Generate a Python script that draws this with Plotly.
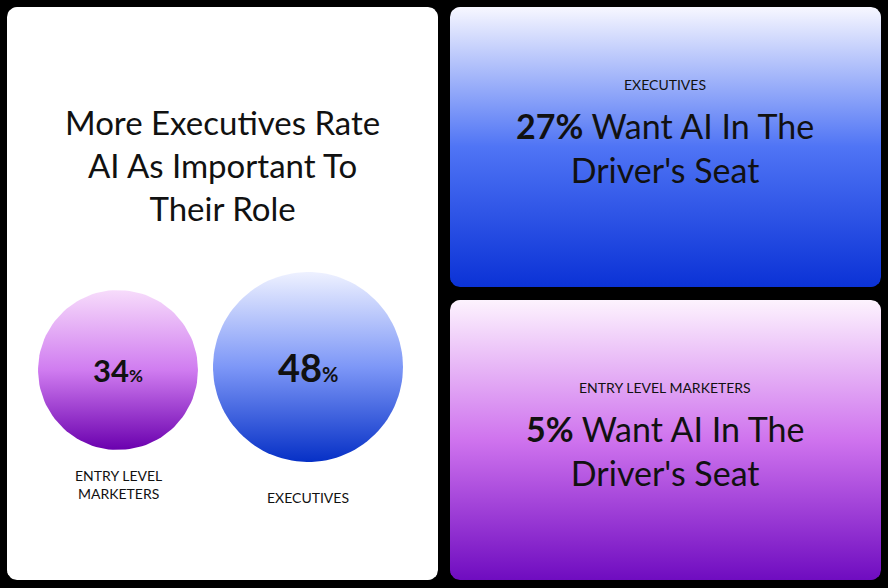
import numpy as np
import plotly.graph_objects as go

# data
groups = ['ENTRY LEVEL<br>MARKETERS', 'EXECUTIVES']
rate_important = [34, 48]
driver_groups = ['EXECUTIVES', 'ENTRY LEVEL MARKETERS']
driver_seat = [27, 5]
title = 'More Executives Rate<br>AI As Important To<br>Their Role'

W, H = 888, 588
FONT = 'Lato'

fig = go.Figure()


def rounded_rect(x0, y0, x1, y1, r=10, n=8):
    xs, ys = [], []
    corners = [(x1 - r, y0 + r, -90, 0), (x1 - r, y1 - r, 0, 90),
               (x0 + r, y1 - r, 90, 180), (x0 + r, y0 + r, 180, 270)]
    for cx, cy, a0, a1 in corners:
        t = np.radians(np.linspace(a0, a1, n))
        xs += list(cx + r * np.cos(t))
        ys += list(cy + r * np.sin(t))
    return xs + [xs[0]], ys + [ys[0]]


def add_shape(xs, ys, c_top, c_bot, y0, y1, mid=None):
    scale = [[0, c_top], [1, c_bot]] if mid is None else [[0, c_top], [0.5, mid], [1, c_bot]]
    fig.add_trace(go.Scatter(
        x=xs, y=ys, mode='lines', fill='toself', line=dict(width=0),
        fillgradient=dict(type='vertical', colorscale=scale, start=y0, stop=y1),
        hoverinfo='skip', showlegend=False))


# cards
xs, ys = rounded_rect(7, 7, 438, 580)
add_shape(xs, ys, '#ffffff', '#ffffff', 7, 580)
xs, ys = rounded_rect(450, 7, 881, 287)
add_shape(xs, ys, '#f7f7ff', '#0b32d6', 7, 287, mid='#4f74f5')
xs, ys = rounded_rect(450, 300, 881, 580)
add_shape(xs, ys, '#fdf3fe', '#6f0cc0', 300, 580, mid='#cf73ee')

# circles, area proportional to value
centers = [(118, 370), (308, 367)]
circ_cols = [('#f7dcfb', '#d07cf0', '#6a00ae'), ('#eef1ff', '#7d97f7', '#0630c6')]
k = 95 / np.sqrt(max(rate_important))
t = np.linspace(0, 2 * np.pi, 120)
for (cx, cy), v, (c0, cm, c1), g in zip(centers, rate_important, circ_cols, groups):
    r = k * np.sqrt(v)
    add_shape(list(cx + r * np.cos(t)), list(cy + r * np.sin(t)), c0, c1, cy - r, cy + r, mid=cm)
    fig.add_annotation(x=cx, y=cy, text=f'<b>{v}</b><span style="font-size:{int(r*0.22)}px"><b>%</b></span>',
                       font=dict(size=int(r * 0.4), color='#111'), showarrow=False)
    fig.add_annotation(x=cx, y=cy + r + 35, text=g, yanchor='middle',
                       font=dict(size=14, color='#111'), showarrow=False)

fig.add_annotation(x=222, y=165, text=title, font=dict(size=33, color='#111'),
                   showarrow=False, align='center')

for yc, g, v in zip([147, 450], driver_groups, driver_seat):
    fig.add_annotation(x=665, y=yc - 63, text=g, font=dict(size=14, color='#111'), showarrow=False)
    fig.add_annotation(x=665, y=yc, text=f"<b>{v}%</b> Want AI In The<br>Driver's Seat",
                       font=dict(size=34, color='#111'), showarrow=False, align='center')

fig.update_layout(
    width=W, height=H, autosize=False, margin=dict(l=0, r=0, t=0, b=0),
    paper_bgcolor='#000', plot_bgcolor='#000', font=dict(family=FONT),
    xaxis=dict(range=[0, W], visible=False, fixedrange=True),
    yaxis=dict(range=[H, 0], visible=False, fixedrange=True),
)
fig.write_html('out.html', config=dict(displayModeBar=False),
               post_script="document.body.style.margin='0';document.body.style.overflow='hidden';")
